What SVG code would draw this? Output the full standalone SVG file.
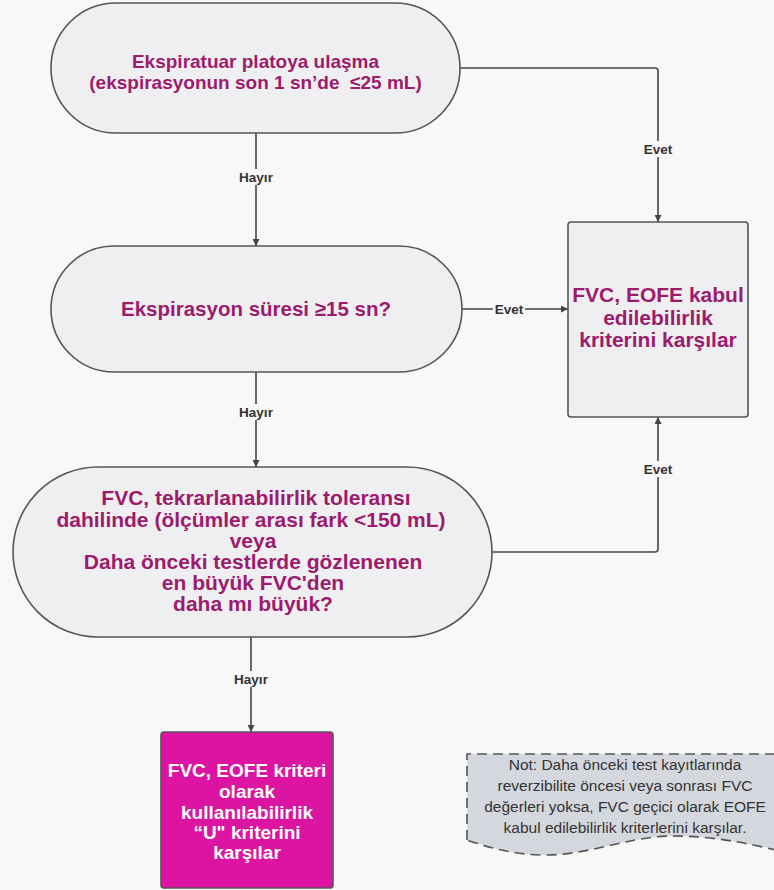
<svg xmlns="http://www.w3.org/2000/svg" width="774" height="890" viewBox="0 0 774 890">
<defs>
<style>
.bg{fill:#f8f8f8}
.node{fill:#efeff2;stroke:#555;stroke-width:1.6}
.t{font-family:"Liberation Sans",Arial,sans-serif;font-weight:bold;fill:#9d1b6c;text-anchor:middle}
.tw{font-family:"Liberation Sans",Arial,sans-serif;font-weight:bold;fill:#ffffff;text-anchor:middle;font-size:19px}
.ln{fill:none;stroke:#444;stroke-width:1.6}
.lbl{font-family:"Liberation Sans",Arial,sans-serif;font-weight:bold;fill:#333;font-size:13.5px;text-anchor:middle}
.lblbg{fill:#f8f8f8}
.note{font-family:"Liberation Sans",Arial,sans-serif;fill:#333;font-size:15.5px;text-anchor:middle}
</style>
<marker id="arr" viewBox="0 0 10 10" refX="10" refY="5" markerWidth="7" markerHeight="7" markerUnits="userSpaceOnUse" orient="auto">
<path d="M0,0 L10,5 L0,10 z" fill="#444"/>
</marker>
</defs>
<rect class="bg" x="0" y="0" width="774" height="890"/>

<g id="connectors">
<line class="ln" x1="256" y1="133" x2="256" y2="246" marker-end="url(#arr)"/>
<line class="ln" x1="256" y1="372" x2="256" y2="467" marker-end="url(#arr)"/>
<line class="ln" x1="251" y1="637" x2="251" y2="732" marker-end="url(#arr)"/>
<path class="ln" d="M460,68 H655 Q658,68 658,71 V222" marker-end="url(#arr)"/>
<line class="ln" x1="462" y1="309" x2="568" y2="309" marker-end="url(#arr)"/>
<path class="ln" d="M492,552 H655 Q658,552 658,549 V417" marker-end="url(#arr)"/>
<rect class="lblbg" x="236" y="169" width="40" height="16"/>
<text class="lbl" x="256" y="182">Hayır</text>
<rect class="lblbg" x="236" y="404" width="40" height="16"/>
<text class="lbl" x="256" y="417">Hayır</text>
<rect class="lblbg" x="231" y="671" width="40" height="16"/>
<text class="lbl" x="251" y="684">Hayır</text>
<rect class="lblbg" x="641" y="141" width="34" height="16"/>
<text class="lbl" x="658" y="154">Evet</text>
<rect class="lblbg" x="493" y="301" width="32" height="16"/>
<text class="lbl" x="509" y="314">Evet</text>
<rect class="lblbg" x="641" y="461" width="34" height="16"/>
<text class="lbl" x="658" y="474">Evet</text>
</g>

<g id="node-plato">
<rect class="node" x="51" y="3" width="409" height="130" rx="65" ry="65"/>
<text class="t" font-size="19" x="255.5" y="68">Ekspiratuar platoya ulaşma</text>
<text class="t" font-size="19" x="255.5" y="89" xml:space="preserve">(ekspirasyonun son 1 sn’de  ≤25 mL)</text>
</g>

<g id="node-sure">
<rect class="node" x="51" y="246" width="411" height="126" rx="63" ry="63"/>
<text class="t" font-size="20.5" x="256" y="316">Ekspirasyon süresi ≥15 sn?</text>
</g>

<g id="node-fvc">
<rect class="node" x="13" y="467" width="479" height="170" rx="85" ry="85"/>
<text class="t" font-size="21" x="256" y="505">FVC, tekrarlanabilirlik toleransı</text>
<text class="t" font-size="21" x="251" y="527">dahilinde (ölçümler arası fark &lt;150 mL)</text>
<text class="t" font-size="21" x="253" y="548">veya</text>
<text class="t" font-size="21" x="253" y="569">Daha önceki testlerde gözlenenen</text>
<text class="t" font-size="21" x="253" y="590">en büyük FVC'den</text>
<text class="t" font-size="21" x="253" y="611">daha mı büyük?</text>
</g>

<g id="node-kabul">
<rect class="node" x="568" y="222" width="180" height="195" rx="3" ry="3"/>
<text class="t" font-size="21" x="658" y="302">FVC, EOFE kabul</text>
<text class="t" font-size="21" x="658" y="325">edilebilirlik</text>
<text class="t" font-size="21" x="658" y="347">kriterini karşılar</text>
</g>

<g id="node-u">
<rect x="161" y="732" width="172" height="156" rx="3" ry="3" fill="#dd14a2" stroke="#555" stroke-width="1.6"/>
<text class="tw" x="247" y="777">FVC, EOFE kriteri</text>
<text class="tw" x="247" y="798">olarak</text>
<text class="tw" x="247" y="819">kullanılabilirlik</text>
<text class="tw" x="247" y="839">“U" kriterini</text>
<text class="tw" x="247" y="859">karşılar</text>
</g>

<g id="note">
<path d="M467,840 V754 H800 V856 C760,846 720,836 672,836 C630,836 590,855 545,855 C515,855 490,848 467,840 Z" fill="#d4d7dd" stroke="#555" stroke-width="1.6" stroke-dasharray="10,6"/>
<text class="note" x="625" y="770">Not: Daha önceki test kayıtlarında</text>
<text class="note" x="625" y="791">reverzibilite öncesi veya sonrası FVC</text>
<text class="note" x="625" y="812">değerleri yoksa, FVC geçici olarak EOFE</text>
<text class="note" x="625" y="833">kabul edilebilirlik kriterlerini karşılar.</text>
</g>
</svg>
